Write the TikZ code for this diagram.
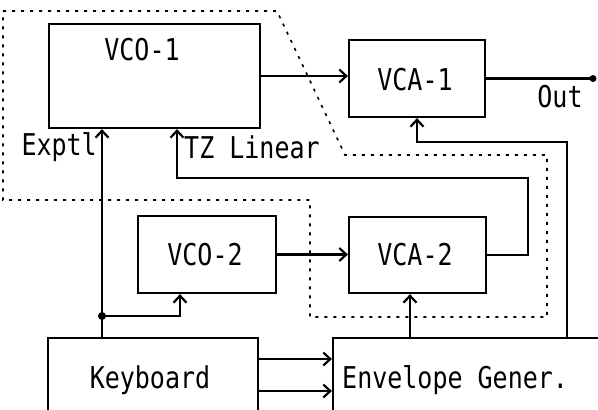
\documentclass[tikz,border=0pt]{standalone}
\usepackage{fontspec}
\newfontfamily\typefont{DejaVu Sans Mono}
\usetikzlibrary{arrows.meta, positioning, calc}
\newcommand{\tall}[1]{\scalebox{1}[1.2]{#1}}

\begin{document}
\begin{tikzpicture}[>={Straight Barb[length=7pt, width=13pt]}, x=1pt, y=-1pt,
  box/.style={draw, line width=2.2pt, inner sep=0pt},
  txt/.style={font=\typefont\fontsize{25}{25}\selectfont, inner sep=0pt},
  wire/.style={line width=2.2pt},
  zone/.style={line width=1.6pt, dash pattern=on 3pt off 6pt}]
  \useasboundingbox (0,0) rectangle (598,410);
  \clip (0,0) rectangle (598,410);
  % Modules
  \node[box, minimum width=211pt, minimum height=104pt] (vco1) at (154.5,76) {};
  \node[txt] (vco1t) at (142,50) {\tall{VCO-1}};
  \node[box, minimum width=136pt, minimum height=77pt] (vca1) at (417,78.5) {};
  \node[txt] (vca1t) at (415,80) {\tall{VCA-1}};
  \node[box, minimum width=138pt, minimum height=77pt] (vco2) at (207,254.5) {};
  \node[txt] (vco2t) at (205,255) {\tall{VCO-2}};
  \node[box, minimum width=137pt, minimum height=76pt] (vca2) at (417.5,255) {};
  \node[txt] (vca2t) at (415,255) {\tall{VCA-2}};
  \node[box, minimum width=210pt, minimum height=120pt] (kbd) at (153,398) {};
  \node[txt] (kbdt) at (150,380) {\tall{Keyboard}};
  \node[box, minimum width=300pt, minimum height=120pt] (env) at (483,398) {};
  \node[txt, anchor=west] (envt) at (342,380) {\tall{Envelope Gener.}};
  % Labels
  \node[txt, anchor=east] (expl) at (97,147) {\tall{Exptl}};
  \node[txt, anchor=west] (lin) at (184,147) {\tall{TZ Linear}};
  \node[txt] (outl) at (560,97) {\tall{Out}};
  % Corners of the wires
  \coordinate (jn) at (102,316);
  \coordinate (pit) at (180,316);
  \coordinate (fb) at (528,178);
  \coordinate (lnin) at (177,178);
  \coordinate (eg) at (567,142);
  \coordinate (egv) at (410,338);
  \coordinate (out) at (593,78.5);
  % Signal paths
  \draw[wire, ->] (vco1.east) -- (vca1.west |- vco1.east);
  \draw[wire] (vca1.east) -- (out);
  \fill (out) circle (3.5);
  \draw[wire, ->] (jn |- kbd.north) -- (jn |- vco1.south);
  \fill (jn) circle (4);
  \draw[wire, ->] (jn) -| (pit |- vco2.south);
  \draw[wire, ->] (vco2.east) -- (vca2.west |- vco2.east);
  \draw[wire, ->] (vca2.east) -| (fb) -| (lnin |- vco1.south);
  \draw[wire, ->] (egv) -- (egv |- vca2.south);
  \draw[wire, ->] (eg |- env.north) |- (vca1.south |- eg) -- (vca1.south);
  \foreach \y in {359,391} {
    \draw[wire, ->] (kbd.east |- 0,\y) -- (env.west |- 0,\y);
  }
  % Dotted zone
  \draw[zone] (3,11) -- (277,11) -- (345,155) -- (547,155) -- (547,317)
    -- (310,317) -- (310,200) -- (3,200) -- cycle;
\end{tikzpicture}
\end{document}
